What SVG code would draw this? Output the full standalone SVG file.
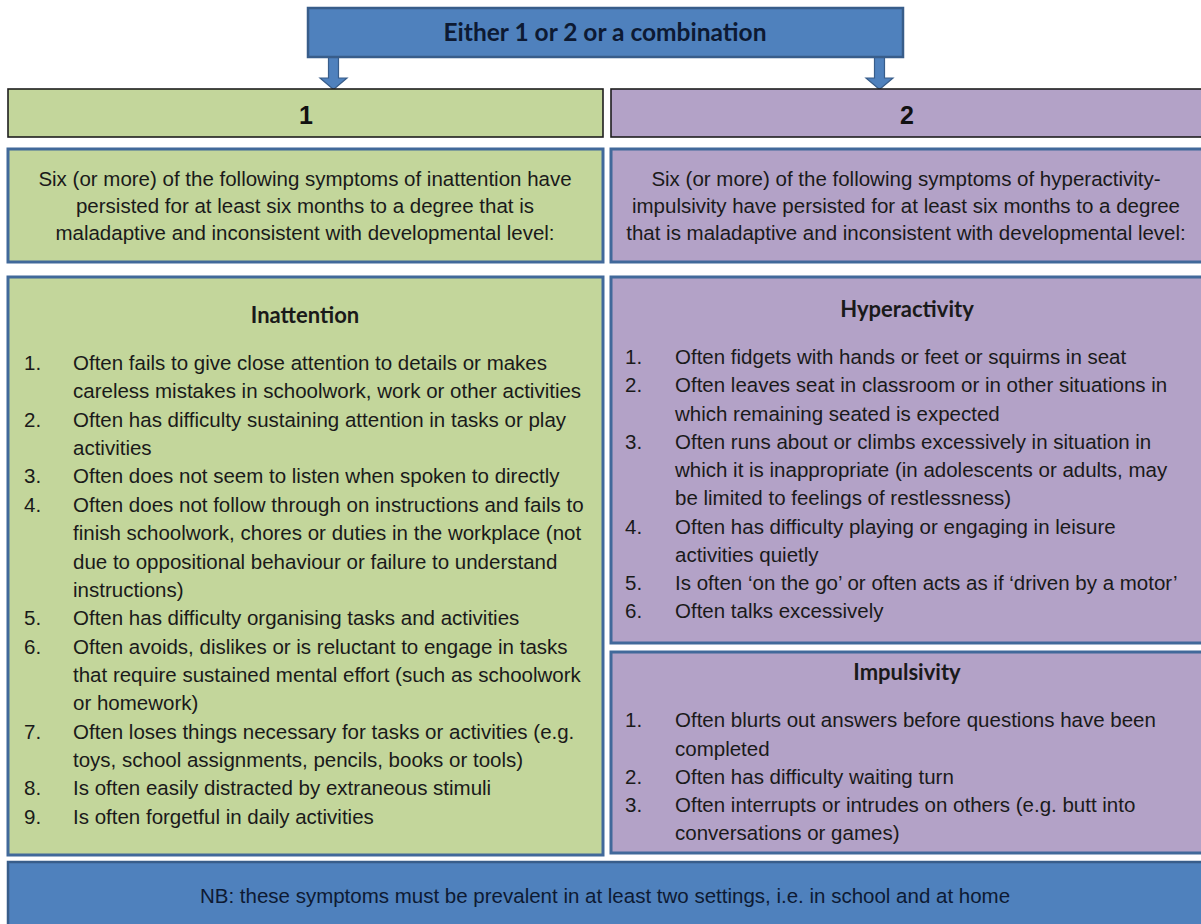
<svg xmlns="http://www.w3.org/2000/svg" width="1201" height="924" viewBox="0 0 1201 924">
<style>
.blue{fill:#4F81BD;stroke:#385D8A;stroke-width:2.5}
.head1{fill:#C3D69B;stroke:#1E1E1E;stroke-width:1.6}
.head2{fill:#B3A2C7;stroke:#1E1E1E;stroke-width:1.6}
.g{fill:#C3D69B;stroke:#41699A;stroke-width:3}
.p{fill:#B3A2C7;stroke:#41699A;stroke-width:3}
.arrow{fill:#4F81BD;stroke:#385D8A;stroke-width:1.2}
.t{font-family:"Liberation Sans",Arial,sans-serif;font-size:20.5px;fill:#1A1A1A}
.c{text-anchor:middle}
.num{font-family:"Liberation Sans",Arial,sans-serif;font-size:25px;font-weight:bold;fill:#111;text-anchor:middle}
.ttl{font-family:Lato,"Liberation Sans",sans-serif;font-size:22px;font-weight:bold;fill:#1A1A1A;text-anchor:middle}
.top{font-family:Lato,"Liberation Sans",sans-serif;font-size:24.5px;font-weight:bold;fill:#0D1A33;text-anchor:middle}
.nb{font-family:"Liberation Sans",Arial,sans-serif;font-size:20.5px;fill:#0D1A33;text-anchor:middle}
</style>
<rect width="1201" height="924" fill="#FFFFFF"/>
<g id="connectors">
<path class="arrow" d="M328.5 57 H338.5 V78 H347 L333.5 89.5 L320 78 H328.5 Z"/>
<path class="arrow" d="M874.5 57 H884.5 V78 H893 L879.5 89.5 L866 78 H874.5 Z"/>
</g>
<g id="top">
<rect class="blue" x="308" y="8" width="595" height="49"/>
<text class="top" x="605" y="41">Either 1 or 2 or a combination</text>
</g>
<g id="header1">
<rect class="head1" x="8" y="89" width="595" height="48"/>
<text class="num" x="306" y="124">1</text>
</g>
<g id="header2">
<rect class="head2" x="611" y="89" width="593" height="48"/>
<text class="num" x="907" y="124">2</text>
</g>
<g id="criteria1">
<rect class="g" x="8" y="149" width="595" height="113"/>
<text class="t c" x="305" y="186">Six (or more) of the following symptoms of inattention have</text>
<text class="t c" x="305" y="213">persisted for at least six months to a degree that is</text>
<text class="t c" x="305" y="240">maladaptive and inconsistent with developmental level:</text>
</g>
<g id="criteria2">
<rect class="p" x="611" y="149" width="593" height="113"/>
<text class="t c" x="906" y="186">Six (or more) of the following symptoms of hyperactivity-</text>
<text class="t c" x="906" y="213">impulsivity have persisted for at least six months to a degree</text>
<text class="t c" x="906" y="240">that is maladaptive and inconsistent with developmental level:</text>
</g>
<g id="inattention">
<rect class="g" x="8" y="277" width="595" height="578"/>
<text class="ttl" x="305" y="323">Inattention</text>
<g class="t">
<text x="24" y="370">1.</text><text x="73" y="370">Often fails to give close attention to details or makes</text>
<text x="73" y="398.4">careless mistakes in schoolwork, work or other activities</text>
<text x="24" y="426.7">2.</text><text x="73" y="426.7">Often has difficulty sustaining attention in tasks or play</text>
<text x="73" y="455">activities</text>
<text x="24" y="483.4">3.</text><text x="73" y="483.4">Often does not seem to listen when spoken to directly</text>
<text x="24" y="511.8">4.</text><text x="73" y="511.8">Often does not follow through on instructions and fails to</text>
<text x="73" y="540.1">finish schoolwork, chores or duties in the workplace (not</text>
<text x="73" y="568.5">due to oppositional behaviour or failure to understand</text>
<text x="73" y="596.8">instructions)</text>
<text x="24" y="625.2">5.</text><text x="73" y="625.2">Often has difficulty organising tasks and activities</text>
<text x="24" y="653.5">6.</text><text x="73" y="653.5">Often avoids, dislikes or is reluctant to engage in tasks</text>
<text x="73" y="681.9">that require sustained mental effort (such as schoolwork</text>
<text x="73" y="710.2">or homework)</text>
<text x="24" y="738.6">7.</text><text x="73" y="738.6">Often loses things necessary for tasks or activities (e.g.</text>
<text x="73" y="766.9">toys, school assignments, pencils, books or tools)</text>
<text x="24" y="795.3">8.</text><text x="73" y="795.3">Is often easily distracted by extraneous stimuli</text>
<text x="24" y="823.6">9.</text><text x="73" y="823.6">Is often forgetful in daily activities</text>
</g>
</g>
<g id="hyperactivity">
<rect class="p" x="611" y="277" width="593" height="366"/>
<text class="ttl" x="907" y="317">Hyperactivity</text>
<g class="t">
<text x="625" y="364">1.</text><text x="675" y="364">Often fidgets with hands or feet or squirms in seat</text>
<text x="625" y="392.3">2.</text><text x="675" y="392.3">Often leaves seat in classroom or in other situations in</text>
<text x="675" y="420.5">which remaining seated is expected</text>
<text x="625" y="448.8">3.</text><text x="675" y="448.8">Often runs about or climbs excessively in situation in</text>
<text x="675" y="477">which it is inappropriate (in adolescents or adults, may</text>
<text x="675" y="505.3">be limited to feelings of restlessness)</text>
<text x="625" y="533.6">4.</text><text x="675" y="533.6">Often has difficulty playing or engaging in leisure</text>
<text x="675" y="561.8">activities quietly</text>
<text x="625" y="590.1">5.</text><text x="675" y="590.1">Is often ‘on the go’ or often acts as if ‘driven by a motor’</text>
<text x="625" y="618.3">6.</text><text x="675" y="618.3">Often talks excessively</text>
</g>
</g>
<g id="impulsivity">
<rect class="p" x="611" y="652" width="593" height="201"/>
<text class="ttl" x="907" y="680">Impulsivity</text>
<g class="t">
<text x="625" y="727.3">1.</text><text x="675" y="727.3">Often blurts out answers before questions have been</text>
<text x="675" y="755.5">completed</text>
<text x="625" y="783.7">2.</text><text x="675" y="783.7">Often has difficulty waiting turn</text>
<text x="625" y="811.9">3.</text><text x="675" y="811.9">Often interrupts or intrudes on others (e.g. butt into</text>
<text x="675" y="840">conversations or games)</text>
</g>
</g>
<g id="note">
<rect class="blue" x="8" y="862" width="1196" height="72"/>
<text class="nb" x="605" y="903">NB: these symptoms must be prevalent in at least two settings, i.e. in school and at home</text>
</g>
</svg>
